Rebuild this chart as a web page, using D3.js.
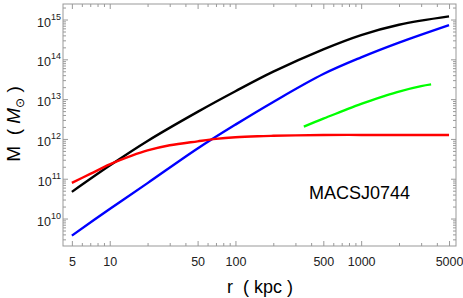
<!DOCTYPE html>
<html>
<head>
<meta charset="utf-8">
<script src="https://cdn.jsdelivr.net/npm/d3@7"></script>
<style>
  body { margin: 0; background: #fff; }
  text { font-family: "Liberation Sans", Arial, sans-serif; }
</style>
</head>
<body>
<div id="chart"></div>
<script>
// radii (kpc) and enclosed masses (Msun)
var rGrid = [5, 10, 20, 50, 100, 200, 500, 1000, 2000, 5000];
var massTotal = [4.68e10, 2.14e11, 8.91e11, 4.79e12, 1.58e13, 4.90e13, 1.78e14, 4.07e14, 7.41e14, 1.20e15];
var massBlue  = [3.72e9, 1.74e10, 7.76e10, 5.75e11, 2.29e12, 8.51e12, 4.27e13, 1.12e14, 2.63e14, 7.24e14];
var rRed   = [5, 7, 10, 15, 20, 30, 50, 70, 100, 150, 200, 300, 500, 1000, 2000, 5000];
var massRed = [7.9e10, 1.32e11, 2.29e11, 3.80e11, 5.13e11, 6.92e11, 8.71e11, 1.00e12, 1.10e12, 1.17e12, 1.20e12, 1.23e12, 1.26e12, 1.26e12, 1.26e12, 1.26e12];
var rGreen = [350, 500, 700, 1000, 1500, 2000, 3000, 3600];
var massGreen = [2.04e12, 3.24e12, 4.90e12, 7.59e12, 1.17e13, 1.55e13, 2.12e13, 2.34e13];

var xMajor = [5, 10, 50, 100, 500, 1000, 5000];
var yMajor = [1e10, 1e11, 1e12, 1e13, 1e14, 1e15];
var clusterName = "MACSJ0744";

var W = 463, H = 298;
var margin = {top: 4, right: 7, bottom: 52, left: 63},
    width = W - margin.left - margin.right,
    height = H - margin.top - margin.bottom;

var x = d3.scaleLog().domain([4.25, 5680]).range([0, width]);
var y = d3.scaleLog().domain([Math.pow(10, 9.31), Math.pow(10, 15.39)]).range([height, 0]);

var svg = d3.select("#chart").append("svg")
    .attr("width", W)
    .attr("height", H)
  .append("g")
    .attr("transform", "translate(" + margin.left + "," + margin.top + ")");

// minor ticks: k * 10^n inside the domain, not already a major
function minorTicks(scale, majors) {
  var d = scale.domain(), out = [];
  for (var e = Math.floor(Math.log10(d[0])); e <= Math.ceil(Math.log10(d[1])); e++) {
    for (var k = 1; k <= 9; k++) {
      var v = k * Math.pow(10, e);
      if (v >= d[0] && v <= d[1] && majors.indexOf(v) < 0) out.push(v);
    }
  }
  return out;
}
var xMinor = minorTicks(x, xMajor);
var yMinor = minorTicks(y, yMajor);

var tickColor = "#999";

function styleAxis(g) {
  g.select(".domain").remove();
  g.selectAll("line").attr("stroke", tickColor);
  g.selectAll("text").attr("fill", "#222").style("font-size", "12.5px");
}

// bottom
svg.append("g").attr("transform", "translate(0," + height + ")")
  .call(d3.axisBottom(x).tickValues(xMinor).tickSize(-3).tickFormat(""))
  .call(styleAxis);
svg.append("g").attr("transform", "translate(0," + height + ")")
  .call(d3.axisBottom(x).tickValues(xMajor).tickSize(-5).tickPadding(11).tickFormat(d3.format("d")))
  .call(styleAxis);
// top
svg.append("g")
  .call(d3.axisTop(x).tickValues(xMinor).tickSize(-3).tickFormat(""))
  .call(styleAxis);
svg.append("g")
  .call(d3.axisTop(x).tickValues(xMajor).tickSize(-5).tickFormat(""))
  .call(styleAxis);
// left
svg.append("g")
  .call(d3.axisLeft(y).tickValues(yMinor).tickSize(-3).tickFormat(""))
  .call(styleAxis);
var yAx = svg.append("g")
  .call(d3.axisLeft(y).tickValues(yMajor).tickSize(-5).tickPadding(3).tickFormat(""))
  .call(styleAxis);
// right
svg.append("g").attr("transform", "translate(" + width + ",0)")
  .call(d3.axisRight(y).tickValues(yMinor).tickSize(-3).tickFormat(""))
  .call(styleAxis);
svg.append("g").attr("transform", "translate(" + width + ",0)")
  .call(d3.axisRight(y).tickValues(yMajor).tickSize(-5).tickFormat(""))
  .call(styleAxis);

// y tick labels as 10^n
yAx.selectAll(".tick").each(function(d) {
  var t = d3.select(this).append("text")
    .attr("x", -2)
    .attr("y", 6.5)
    .attr("text-anchor", "end")
    .attr("fill", "#222")
    .style("font-size", "12.5px");
  t.append("tspan").text("10");
  t.append("tspan").attr("dy", -7).style("font-size", "9px").text(Math.round(Math.log10(d)));
});

// frame
svg.append("rect")
  .attr("width", width)
  .attr("height", height)
  .attr("fill", "none")
  .attr("stroke", tickColor)
  .attr("stroke-width", 1);

// curves
var line = d3.line()
  .x(function(d) { return x(d[0]); })
  .y(function(d) { return y(d[1]); })
  .curve(d3.curveCatmullRom.alpha(0.5));

function zip(a, b) { return a.map(function(v, i) { return [v, b[i]]; }); }

var series = [
  {pts: zip(rGreen, massGreen), color: "#00ff00"},
  {pts: zip(rGrid, massBlue), color: "#0000ff"},
  {pts: zip(rGrid, massTotal), color: "#000000"},
  {pts: zip(rRed, massRed), color: "#ff0000"}
];

svg.selectAll(".curve")
  .data(series)
  .enter().append("path")
    .attr("class", "curve")
    .attr("d", function(d) { return line(d.pts); })
    .attr("fill", "none")
    .attr("stroke", function(d) { return d.color; })
    .attr("stroke-width", 2.4);

// annotation
svg.append("text")
  .attr("x", 359.5 - margin.left)
  .attr("y", 199 - margin.top)
  .attr("text-anchor", "middle")
  .style("font-size", "18px")
  .text(clusterName);

// axis labels
svg.append("text")
  .attr("x", 260 - margin.left)
  .attr("y", 293 - margin.top)
  .attr("text-anchor", "middle")
  .style("font-size", "18px")
  .attr("xml:space", "preserve")
  .text("r  ( kpc )");

var yl = svg.append("text")
  .attr("transform", "translate(" + (20 - margin.left) + "," + (124 - margin.top) + ") rotate(-90)")
  .attr("text-anchor", "middle")
  .attr("xml:space", "preserve")
  .style("font-size", "19px");
yl.append("tspan").text("M  ( ");
yl.append("tspan").style("font-style", "italic").text("M");
yl.append("tspan").attr("dy", 4).style("font-size", "12px").text("\u2299");
yl.append("tspan").attr("dy", -4).text(" )");
</script>
</body>
</html>
